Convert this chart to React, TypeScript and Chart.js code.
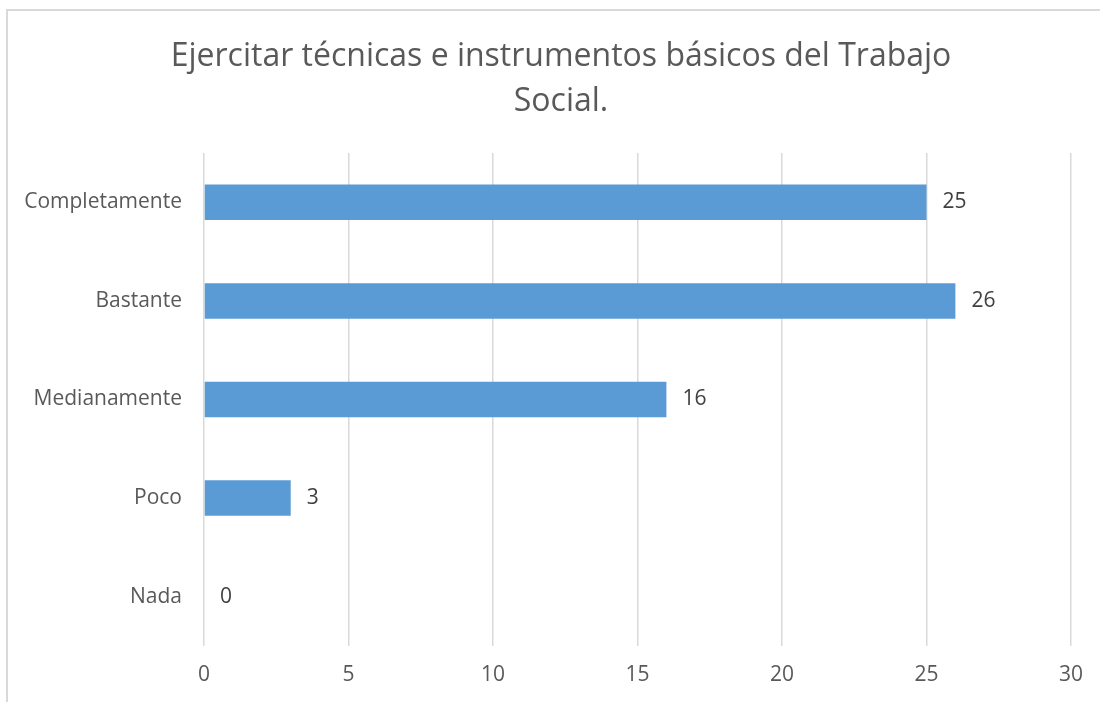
import React, { useEffect, useRef } from "react";
import { Chart, registerables } from "chart.js";

Chart.register(...registerables);

const titleLines = ["Ejercitar técnicas e instrumentos básicos del Trabajo", "Social."];
const categories = ["Completamente", "Bastante", "Medianamente", "Poco", "Nada"];
const values = [25, 26, 16, 3, 0];
const xTicks = [0, 5, 10, 15, 20, 25, 30];

const FONT = "'Open Sans', sans-serif";

const valueLabels = {
  id: "valueLabels",
  afterDatasetsDraw(chart: any) {
    const ctx = chart.ctx;
    const meta = chart.getDatasetMeta(0);
    ctx.save();
    ctx.font = `21px ${FONT}`;
    ctx.fillStyle = "#404040";
    ctx.textAlign = "left";
    ctx.textBaseline = "middle";
    meta.data.forEach((el: any, i: number) => {
      ctx.fillText(String(values[i]), el.x + 16, el.y);
    });
    ctx.restore();
  },
};

export default function App() {
  const ref = useRef<HTMLCanvasElement | null>(null);
  useEffect(() => {
    if (!ref.current) return;
    const chart = new Chart(ref.current, {
      type: "bar",
      data: {
        labels: categories,
        datasets: [
          {
            data: values,
            backgroundColor: "#5B9BD5",
            barPercentage: 0.36,
            categoryPercentage: 1,
          },
        ],
      },
      options: {
        indexAxis: "y",
        responsive: false,
        animation: false,
        layout: { padding: { left: 22, right: 0, top: 0, bottom: 10 } },
        plugins: {
          legend: { display: false },
          tooltip: { enabled: false },
          title: {
            display: true,
            text: titleLines,
            color: "#595959",
            font: { family: FONT, size: 32, weight: "normal", lineHeight: 45 / 32 },
            padding: { top: 34, bottom: 29 },
          },
        },
        scales: {
          x: {
            min: 0,
            max: 30,
            afterBuildTicks(scale: any) {
              scale.ticks = xTicks.map((v) => ({ value: v }));
            },
            afterFit(scale: any) {
              scale.paddingRight = 29;
              scale.paddingLeft = 0;
              scale.height = 46;
            },
            grid: { color: "#D9D9D9", lineWidth: 1.5, drawTicks: false },
            border: { display: false },
            ticks: { color: "#595959", font: { family: FONT, size: 21 }, padding: 16, maxRotation: 0 },
          },
          y: {
            afterFit(scale: any) {
              scale.width = 182;
            },
            grid: { display: false, drawTicks: false },
            border: { display: false },
            ticks: { color: "#595959", font: { family: FONT, size: 21 }, padding: 22 },
          },
        },
      },
      plugins: [valueLabels],
    });
    return () => chart.destroy();
  }, []);

  return (
    <div style={{ position: "fixed", left: 0, top: 0, width: 1100, height: 702, overflow: "hidden", background: "#fff" }}>
      <div
        style={{
          position: "absolute",
          left: 6,
          top: 9,
          width: 1200,
          height: 800,
          border: "2px solid #D9D9D9",
          boxSizing: "border-box",
        }}
      />
      <canvas ref={ref} width={1100} height={702} style={{ position: "absolute", left: 0, top: 0 }} />
    </div>
  );
}
